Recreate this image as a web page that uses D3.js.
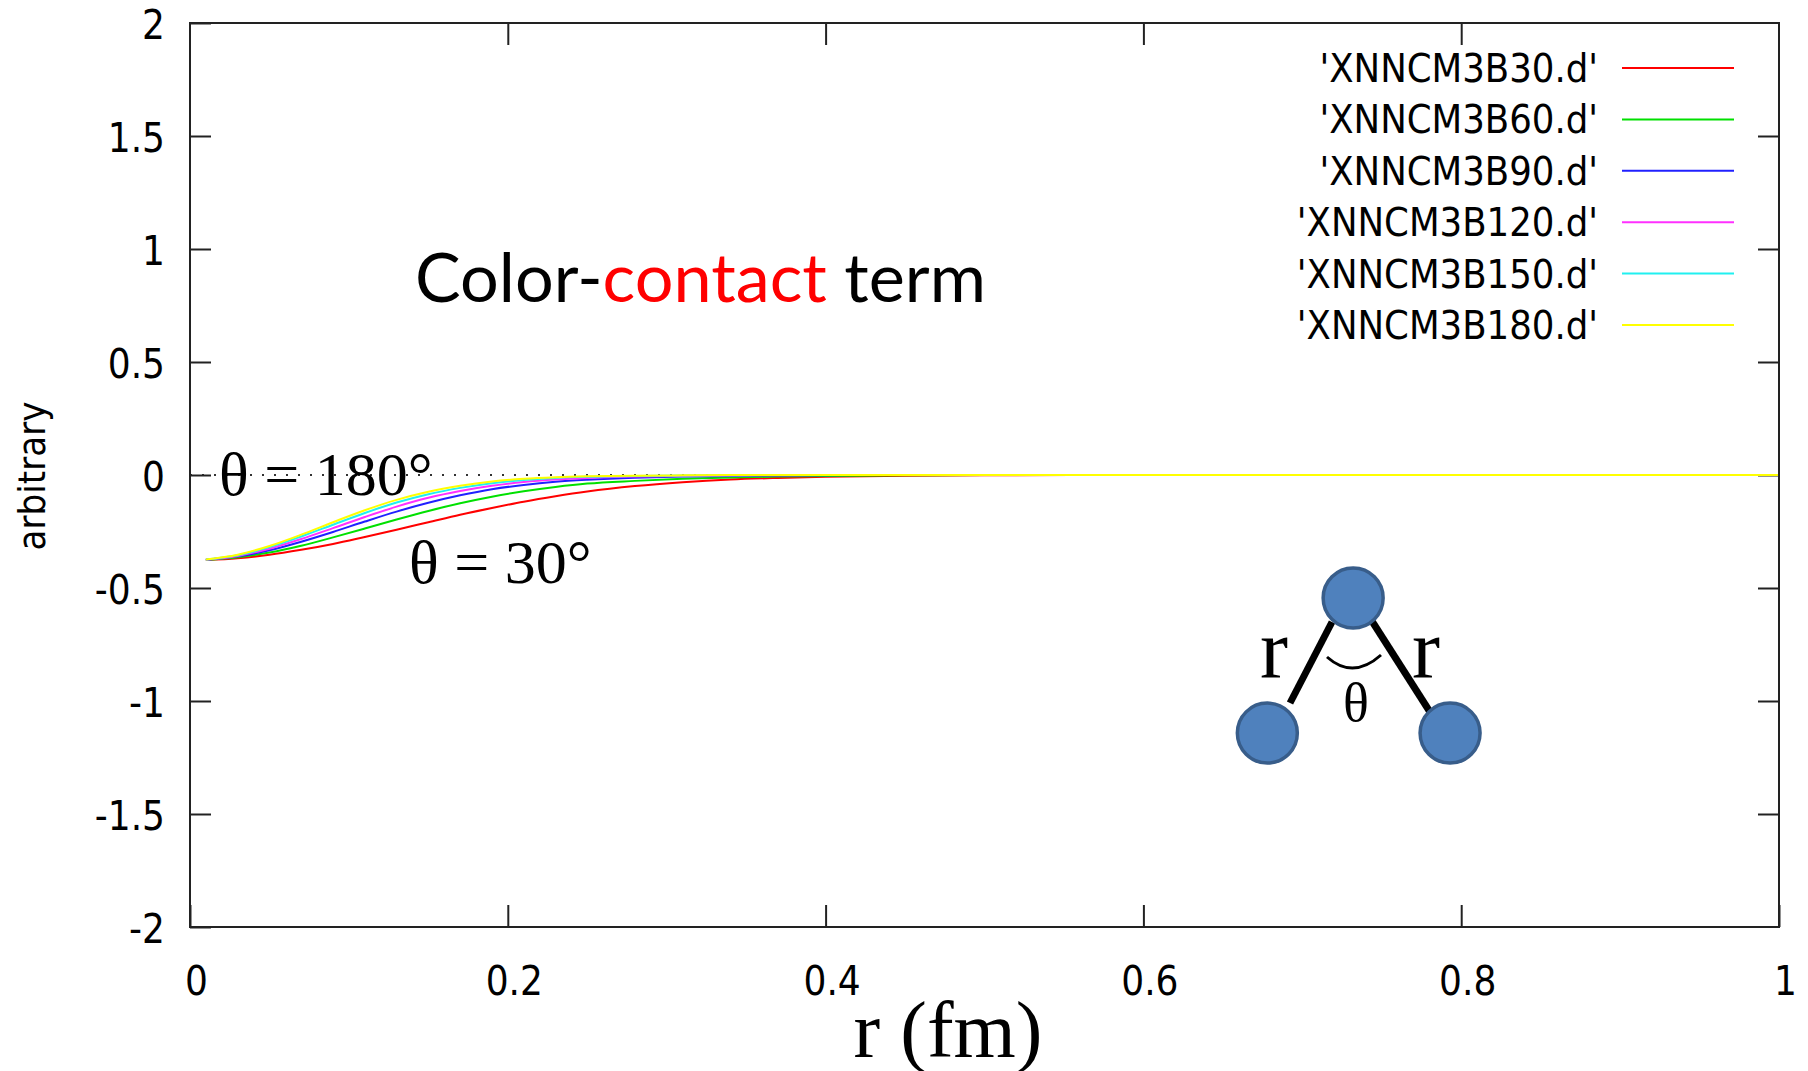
<!DOCTYPE html>
<html>
<head>
<meta charset="utf-8">
<script src="https://cdn.jsdelivr.net/npm/d3@7"></script>
<style>
  html, body { margin: 0; padding: 0; background: #fff; }
  svg { display: block; }
</style>
</head>
<body>
<svg id="chart" width="1808" height="1071"></svg>
<script>
// ---------------- data ----------------
const rValues = [0.01, 0.03, 0.05, 0.07, 0.09, 0.11, 0.13, 0.15, 0.17, 0.19, 0.21, 0.23, 0.25, 0.28, 0.31, 0.34, 0.37, 0.40, 0.45, 0.50, 0.60, 0.70, 0.80, 0.90, 1.00];
const seriesNames = ["'XNNCM3B30.d'", "'XNNCM3B60.d'", "'XNNCM3B90.d'", "'XNNCM3B120.d'", "'XNNCM3B150.d'", "'XNNCM3B180.d'"];
const seriesColors = ["#ff0000", "#00e000", "#2020ff", "#ff30ff", "#20f0f0", "#ffff00"];
const v30  = [-0.376, -0.368, -0.353, -0.331, -0.305, -0.274, -0.242, -0.209, -0.176, -0.146, -0.118, -0.094, -0.073, -0.049, -0.032, -0.020, -0.013, -0.008, -0.003, -0.001, 0, 0, 0, 0, 0];
const v60  = [-0.376, -0.364, -0.343, -0.313, -0.276, -0.237, -0.197, -0.159, -0.125, -0.096, -0.072, -0.053, -0.038, -0.026, -0.017, -0.011, -0.007, -0.004, -0.0015, 0, 0, 0, 0, 0, 0];
const v90  = [-0.375, -0.360, -0.333, -0.295, -0.252, -0.206, -0.162, -0.123, -0.090, -0.063, -0.044, -0.030, -0.021, -0.012, -0.007, -0.004, -0.002, -0.001, 0, 0, 0, 0, 0, 0, 0];
const v120 = [-0.375, -0.358, -0.326, -0.283, -0.235, -0.186, -0.140, -0.101, -0.071, -0.048, -0.031, -0.020, -0.013, -0.007, -0.004, -0.002, -0.001, 0, 0, 0, 0, 0, 0, 0, 0];
const v150 = [-0.374, -0.355, -0.319, -0.272, -0.220, -0.168, -0.122, -0.085, -0.057, -0.036, -0.022, -0.013, -0.008, -0.004, -0.002, -0.001, 0, 0, 0, 0, 0, 0, 0, 0, 0];
const v180 = [-0.374, -0.353, -0.314, -0.264, -0.209, -0.156, -0.110, -0.074, -0.048, -0.029, -0.017, -0.010, -0.006, -0.003, -0.0015, -0.0005, 0, 0, 0, 0, 0, 0, 0, 0, 0];
const seriesValues = [v30, v60, v90, v120, v150, v180];
const xTicks = [0, 0.2, 0.4, 0.6, 0.8, 1];
const xTickLabels = ["0", "0.2", "0.4", "0.6", "0.8", "1"];
const yTicks = [-2, -1.5, -1, -0.5, 0, 0.5, 1, 1.5, 2];
const yTickLabels = ["-2", "-1.5", "-1", "-0.5", "0", "0.5", "1", "1.5", "2"];

// ---------------- layout ----------------
const svg = d3.select("#chart");
const L = 190, R = 1779, T = 23, B = 927;
const x = d3.scaleLinear().domain([0, 1]).range([L, R]);
const y = d3.scaleLinear().domain([-2, 2]).range([B, T]);
const tickFont = "'DejaVu Sans Condensed', 'DejaVu Sans', sans-serif";
const axisColor = "#222";

// zero axis (dotted)
svg.append("line")
  .attr("x1", x(0)).attr("x2", x(1)).attr("y1", y(0)).attr("y2", y(0))
  .attr("stroke", "#333").attr("stroke-width", 2).attr("stroke-dasharray", "2,10");

// axes
function styleAxis(g) {
  g.select(".domain").remove();
  g.selectAll(".tick line").attr("stroke", axisColor).attr("stroke-width", 2);
  g.selectAll(".tick text").attr("fill", "#000").style("font-family", tickFont).style("font-size", "40px");
}
svg.append("g").attr("transform", `translate(${L},0)`)
  .call(d3.axisLeft(y).tickValues(yTicks).tickFormat((d, i) => yTickLabels[i]).tickSize(-21).tickPadding(25))
  .call(styleAxis)
  .call(g => g.selectAll(".tick text").attr("dy", "0.38em"));
svg.append("g").attr("transform", `translate(${R},0)`)
  .call(d3.axisRight(y).tickValues(yTicks.slice(1, -1)).tickFormat("").tickSize(-21))
  .call(styleAxis);
svg.append("g").attr("transform", `translate(0,${B})`)
  .call(d3.axisBottom(x).tickValues(xTicks).tickFormat((d, i) => xTickLabels[i]).tickSize(-22).tickPadding(40))
  .call(styleAxis)
  .call(g => g.selectAll(".tick text").attr("dx", 6));
svg.append("g").attr("transform", `translate(0,${T})`)
  .call(d3.axisTop(x).tickValues(xTicks.slice(1, -1)).tickFormat("").tickSize(-22))
  .call(styleAxis);

// curves
const line = d3.line().x((d, i) => x(rValues[i])).y(d => y(d)).curve(d3.curveMonotoneX);
seriesValues.forEach((vals, k) => {
  svg.append("path").datum(vals)
    .attr("d", line)
    .attr("fill", "none")
    .attr("stroke", seriesColors[k])
    .attr("stroke-width", 2);
});

// frame
svg.append("rect").attr("x", L).attr("y", T).attr("width", R - L).attr("height", B - T)
  .attr("fill", "none").attr("stroke", axisColor).attr("stroke-width", 2);

// legend
const legend = svg.append("g");
seriesNames.forEach((name, k) => {
  const ly = 68 + k * 51.4;
  legend.append("text")
    .attr("x", 1598).attr("y", ly + 14)
    .attr("text-anchor", "end")
    .style("font-family", tickFont).style("font-size", "39.5px")
    .text(name);
  legend.append("line")
    .attr("x1", 1622).attr("x2", 1734).attr("y1", ly).attr("y2", ly)
    .attr("stroke", seriesColors[k]).attr("stroke-width", 2);
});

// axis titles
svg.append("text")
  .attr("transform", "translate(45,476) rotate(-90)")
  .attr("text-anchor", "middle")
  .style("font-family", tickFont).style("font-size", "38px")
  .text("arbitrary");
svg.append("text")
  .attr("x", 948).attr("y", 1057)
  .attr("text-anchor", "middle")
  .style("font-family", "'Liberation Serif', 'DejaVu Serif', serif").style("font-size", "80px")
  .text("r (fm)");

// title
const title = svg.append("text")
  .attr("x", 415).attr("y", 302)
  .attr("textLength", 571).attr("lengthAdjust", "spacingAndGlyphs")
  .style("font-family", "Lato, 'Open Sans', sans-serif").style("font-size", "67px");
title.append("tspan").attr("fill", "#000").text("Color-");
title.append("tspan").attr("fill", "#ff0000").text("contact");
title.append("tspan").attr("fill", "#000").text(" term");

// theta annotations
const serif = "'Liberation Serif', 'Times New Roman', serif";
svg.append("text").attr("x", 219).attr("y", 495)
  .style("font-family", serif).style("font-size", "62px").text("θ = 180°");
svg.append("text").attr("x", 409).attr("y", 583)
  .style("font-family", serif).style("font-size", "62px").text("θ = 30°");

// molecule diagram (placed in data coordinates)
const dg = svg.append("g");
const atomTop = [0.732, -0.544], atomLeft = [0.678, -1.142], atomRight = [0.793, -1.142];
dg.append("line").attr("x1", 1290).attr("y1", 703).attr("x2", 1332).attr("y2", 622)
  .attr("stroke", "#000").attr("stroke-width", 7);
dg.append("line").attr("x1", 1370).attr("y1", 618).attr("x2", 1430).attr("y2", 712)
  .attr("stroke", "#000").attr("stroke-width", 7);
dg.append("path").attr("d", "M1327,657 Q1353,680 1381,655")
  .attr("fill", "none").attr("stroke", "#000").attr("stroke-width", 3);
[atomTop, atomLeft, atomRight].forEach(a => {
  dg.append("circle").attr("cx", x(a[0])).attr("cy", y(a[1])).attr("r", 30)
    .attr("fill", "#4f81bd").attr("stroke", "#385d8a").attr("stroke-width", 3.5);
});
dg.append("text").attr("x", 1260).attr("y", 677)
  .style("font-family", serif).style("font-size", "84px").text("r");
dg.append("text").attr("x", 1412).attr("y", 677)
  .style("font-family", serif).style("font-size", "84px").text("r");
dg.append("text").attr("x", 1356).attr("y", 721).attr("text-anchor", "middle")
  .style("font-family", serif).style("font-size", "54px").text("θ");
</script>
</body>
</html>
